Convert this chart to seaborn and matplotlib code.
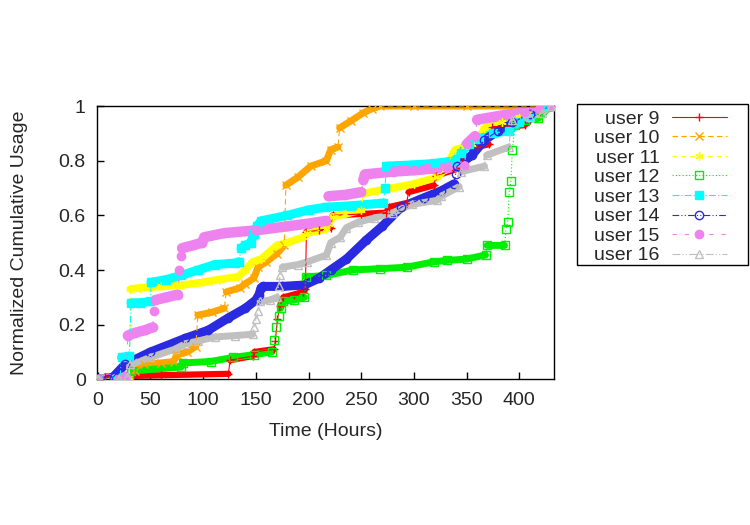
import numpy as np
import pandas as pd
import matplotlib
matplotlib.use("Agg")
import matplotlib.pyplot as plt
import seaborn as sns
from matplotlib.lines import Line2D
from matplotlib.patches import Rectangle

# cumulative usage per user (hours, fraction)
users = ["user 9", "user 10", "user 11", "user 12", "user 13", "user 14", "user 15", "user 16"]

u9_t = [0, 7, 60, 124, 125.5, 147, 148.5, 167, 168.5, 170.5, 173, 176, 186, 195, 197, 198, 210, 221, 223, 250,
        274, 276, 293, 295, 319, 321, 345, 348, 360, 371, 374, 390, 405, 410, 420, 430]
u9_v = [0, 0.01, 0.015, 0.02, 0.07, 0.085, 0.10, 0.11, 0.14, 0.22, 0.27, 0.30, 0.31, 0.32, 0.33, 0.54, 0.545, 0.555, 0.60, 0.605,
        0.61, 0.63, 0.645, 0.685, 0.71, 0.745, 0.775, 0.845, 0.85, 0.86, 0.925, 0.925, 0.93, 0.95, 0.98, 1.0]

u10_t = [0, 20, 28, 35, 44, 60, 72, 75, 85, 93, 95, 108, 120, 122, 135, 140, 148, 152, 160, 170, 177, 178.5,
         190, 202, 217, 221, 228, 229.5, 240, 252, 260, 268, 300, 350, 430]
u10_v = [0, 0.0, 0.01, 0.03, 0.055, 0.06, 0.065, 0.09, 0.10, 0.12, 0.235, 0.245, 0.26, 0.32, 0.335, 0.35, 0.37, 0.41, 0.43, 0.46, 0.49, 0.71,
         0.74, 0.78, 0.80, 0.84, 0.85, 0.92, 0.945, 0.975, 0.99, 1.0, 1.0, 1.0, 1.0]

u11_t = [0, 20, 30, 31, 40, 60, 80, 100, 107, 115, 133, 140, 147, 155, 170, 180, 195, 199, 217, 219, 223, 235,
         250, 252, 265, 280, 300, 322, 330, 339, 348, 355, 362, 367, 384, 400, 420, 430]
u11_v = [0, 0.0, 0.01, 0.33, 0.335, 0.34, 0.345, 0.355, 0.36, 0.365, 0.375, 0.40, 0.43, 0.44, 0.49, 0.50, 0.52, 0.535, 0.55, 0.57, 0.595, 0.605,
         0.62, 0.68, 0.69, 0.70, 0.715, 0.74, 0.77, 0.84, 0.85, 0.86, 0.88, 0.92, 0.94, 0.96, 0.99, 1.0]

u12_t = [0, 20, 30, 31.5, 79, 80.5, 107, 128, 148, 165, 167.5, 169.5, 171.5, 173.5, 175.5, 186, 196, 197.5,
         217, 242, 268, 293, 319, 331, 350, 368, 369.5, 386, 387.5, 389, 390.5, 392, 393.5, 396, 405, 418, 430]
u12_v = [0, 0.0, 0.005, 0.03, 0.045, 0.06, 0.065, 0.08, 0.09, 0.10, 0.145, 0.19, 0.23, 0.26, 0.285, 0.29, 0.30, 0.375,
         0.38, 0.40, 0.405, 0.41, 0.43, 0.435, 0.44, 0.455, 0.49, 0.49, 0.55, 0.575, 0.685, 0.725, 0.84, 0.93, 0.95, 0.955, 1.0]

u13_t = [0, 15, 21, 22.5, 30, 31.5, 40, 50, 50.5, 65, 79, 95, 111, 130, 134, 136, 140, 145, 148, 151, 155,
         180, 200, 217, 240, 271, 272.5, 274, 300, 320, 339, 345, 352, 362, 375, 390, 400, 410, 425, 430]
u13_v = [0, 0.0, 0.0, 0.08, 0.085, 0.28, 0.28, 0.285, 0.355, 0.365, 0.38, 0.40, 0.42, 0.425, 0.43, 0.48, 0.49, 0.50, 0.53, 0.56, 0.58,
         0.60, 0.62, 0.63, 0.635, 0.645, 0.70, 0.78, 0.785, 0.79, 0.80, 0.83, 0.86, 0.88, 0.90, 0.91, 0.94, 0.96, 1.0, 1.0]

u14_t = [0, 10, 15, 26, 50, 83, 105, 124, 140, 150, 153, 155, 157, 175, 196, 210, 221, 236, 255, 270, 288,
         310, 326, 338, 339.5, 341, 355, 367, 380, 393, 410, 430]
u14_v = [0, 0.0, 0.01, 0.055, 0.10, 0.15, 0.18, 0.225, 0.26, 0.29, 0.31, 0.335, 0.34, 0.34, 0.345, 0.37, 0.40, 0.44, 0.51, 0.56, 0.63,
         0.665, 0.69, 0.715, 0.75, 0.78, 0.82, 0.875, 0.91, 0.94, 0.97, 1.0]

u15_t = [0, 20, 27, 28.5, 35, 45, 52, 53, 54.5, 65, 76, 77.5, 78.5, 80, 90, 99, 101, 120, 150, 180,
         200, 217, 219, 235, 250, 252, 253.5, 280, 300, 331, 348, 350, 358, 360, 375, 390, 405, 419, 430]
u15_v = [0, 0.0, 0.01, 0.16, 0.17, 0.18, 0.19, 0.25, 0.29, 0.30, 0.31, 0.40, 0.45, 0.48, 0.49, 0.50, 0.52, 0.535, 0.545, 0.56,
         0.57, 0.58, 0.67, 0.675, 0.685, 0.73, 0.75, 0.76, 0.765, 0.775, 0.78, 0.86, 0.89, 0.95, 0.96, 0.97, 0.975, 0.99, 1.0]

u16_t = [0, 20, 28, 31, 50, 73, 83, 95, 111, 130, 147, 148.5, 150, 152, 154, 163, 170, 171.5, 173, 175, 190,
         199, 217, 221, 230, 236, 247, 262, 280, 298, 322, 326, 343, 345, 367, 369, 390, 393, 410, 422, 430]
u16_v = [0, 0.0, 0.01, 0.055, 0.08, 0.11, 0.13, 0.14, 0.155, 0.16, 0.165, 0.19, 0.22, 0.25, 0.285, 0.29, 0.30, 0.34, 0.38, 0.41, 0.42,
         0.43, 0.455, 0.50, 0.52, 0.555, 0.575, 0.59, 0.61, 0.64, 0.655, 0.67, 0.705, 0.76, 0.78, 0.82, 0.85, 0.95, 0.96, 0.975, 1.0]

series = {
    "user 9": (u9_t, u9_v), "user 10": (u10_t, u10_v), "user 11": (u11_t, u11_v), "user 12": (u12_t, u12_v),
    "user 13": (u13_t, u13_v), "user 14": (u14_t, u14_v), "user 15": (u15_t, u15_v), "user 16": (u16_t, u16_v),
}

# gnuplot-like styles: color, dash, marker, filled?, band width
styles = {
    "user 9":  ("#ff0000", "-", "+", True, 4.5),
    "user 10": ("#ffa500", (0, (5, 3)), "x", True, 5),
    "user 11": ("#ffff00", (0, (4, 4)), (6, 2, 0), True, 5.5),
    "user 12": ("#00ee00", (0, (1, 2)), "s", False, 5),
    "user 13": ("#00ffff", (0, (6, 2, 1, 2)), "s", True, 6.5),
    "user 14": ("#2a2ae0", (0, (6, 2, 1, 2, 1, 2)), "o", False, 6.5),
    "user 15": ("#ee82ee", (0, (4, 7)), "o", True, 7.5),
    "user 16": ("#c0c0c0", (0, (7, 2, 1, 2, 1, 2)), "^", False, 5),
}

rows = []
for u in users:
    t, v = series[u]
    for i, (a, b) in enumerate(zip(t, v)):
        rows.append({"user": u, "t": a, "v": b, "i": i})
df = pd.DataFrame(rows)

sns.set_style("white")
plt.rcParams["font.family"] = ["Liberation Sans", "DejaVu Sans"]

fig = plt.figure(figsize=(7.5, 5.25), dpi=100)
ax = fig.add_axes([0.129, 0.2775, 0.6097, 0.5205])

handles = []
for u in users:
    color, dash, mk, filled, bw = styles[u]
    sub = df[df["user"] == u].sort_values("i")
    t = sub["t"].to_numpy(float)
    v = sub["v"].to_numpy(float)

    # thick band along the densely sampled stretches, broken at steep jumps
    bt, bv = [t[0]], [v[0]]
    for k in range(1, len(t)):
        slope = (v[k] - v[k - 1]) / max(t[k] - t[k - 1], 1e-6)
        if slope > 0.014:
            bt.append(np.nan)
            bv.append(np.nan)
        bt.append(t[k])
        bv.append(v[k])
    ax.plot(bt, bv, color=color, lw=bw, solid_capstyle="round", zorder=2)

    mfc = color if filled else "none"
    sns.lineplot(data=sub, x="t", y="v", sort=False, estimator=None, ax=ax,
                 color=color, lw=0.8, linestyle=dash, marker=mk, markersize=6,
                 markerfacecolor=mfc, markeredgecolor=color, markeredgewidth=1, zorder=3)
    handles.append(Line2D([], [], color=color, lw=0.8, linestyle=dash, marker=mk, markersize=6,
                          markerfacecolor=mfc, markeredgecolor=color, markeredgewidth=1))

ax.set_xlim(-1, 433)
ax.set_ylim(0, 1)
ax.set_xticks(np.arange(0, 401, 50))
ax.set_yticks([0, 0.2, 0.4, 0.6, 0.8, 1])
ax.set_yticklabels(["0", "0.2", "0.4", "0.6", "0.8", "1"])
ax.tick_params(direction="in", length=5, width=1, labelsize=14, color="black",
               top=False, right=False, bottom=True, left=True)
ax.tick_params(axis="x", pad=9)
ax.tick_params(axis="y", pad=8)
for s in ax.spines.values():
    s.set_color("black")
    s.set_linewidth(1)
ax.set_xlabel("Time (Hours)", fontsize=14, labelpad=10)
ax.set_ylabel("Normalized Cumulative Usage", fontsize=14, labelpad=22)

# legend box outside the plot, texts right-aligned in front of the samples
fig.patches.append(Rectangle((577 / 750, 1 - 265 / 525), 171 / 750, 161 / 525,
                             transform=fig.transFigure, fill=False, edgecolor="black", lw=1))
leg = fig.legend(handles, users, loc="upper left", bbox_to_anchor=(594 / 750, 1 - 110 / 525),
                 bbox_transform=fig.transFigure, borderaxespad=0, markerfirst=False,
                 fontsize=14, handlelength=2.8, handletextpad=0.65, labelspacing=0.1,
                 borderpad=0.0, frameon=False)

fig.savefig("out.png", dpi=100)
